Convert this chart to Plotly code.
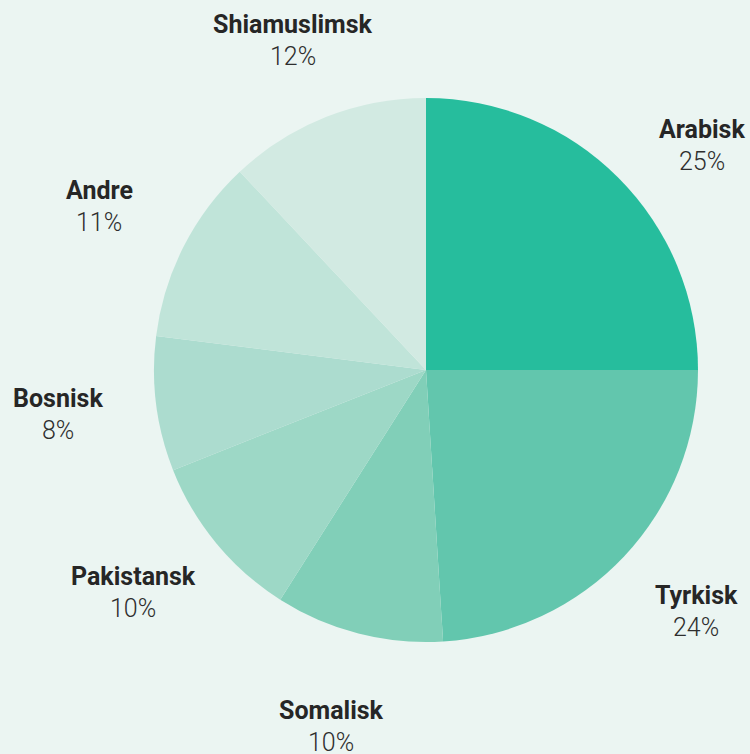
import plotly.graph_objects as go

labels = ["Arabisk", "Tyrkisk", "Somalisk", "Pakistansk", "Bosnisk", "Andre", "Shiamuslimsk"]
values = [25, 24, 10, 10, 8, 11, 12]
colors = ["#26bd9d", "#62c6ad", "#81cfb8", "#9dd8c6", "#acdccf", "#c0e4d9", "#d2eae2"]

W, H = 750, 754
cx, cy, R = 426, 370, 272

# label block centres (layout positions in pixels, top-left origin)
label_pos = [(702, 145), (696, 611), (331, 726), (133, 592), (58, 414), (99, 207), (293, 41)]

fig = go.Figure(go.Pie(
    labels=labels, values=values, sort=False, direction="clockwise", rotation=0,
    marker=dict(colors=colors, line=dict(width=0)),
    textinfo="none", hoverinfo="label+percent", showlegend=False,
    domain=dict(x=[(cx - R) / W, (cx + R) / W], y=[(H - cy - R) / H, (H - cy + R) / H]),
))

total = sum(values)
annotations = []
for lab, v, (px, py) in zip(labels, values, label_pos):
    annotations.append(dict(x=px / W, y=(H - (py - 16)) / H, xref="paper", yref="paper",
                            text=f"<b>{lab}</b>", showarrow=False,
                            font=dict(family="Roboto", size=25, color="#262626"),
                            xanchor="center", yanchor="middle"))
    annotations.append(dict(x=px / W, y=(H - (py + 16)) / H, xref="paper", yref="paper",
                            text=f"{round(v / total * 100)}%", showarrow=False,
                            font=dict(family="Roboto", size=25, color="#2e2e2e", weight=300),
                            xanchor="center", yanchor="middle"))

fig.update_layout(
    width=W, height=H, margin=dict(l=0, r=0, t=0, b=0),
    paper_bgcolor="#ebf5f2", plot_bgcolor="#ebf5f2",
    annotations=annotations,
)
fig.write_html("out.html", config={"displayModeBar": False},
               post_script="document.body.style.margin='0';document.body.style.overflow='hidden';")
